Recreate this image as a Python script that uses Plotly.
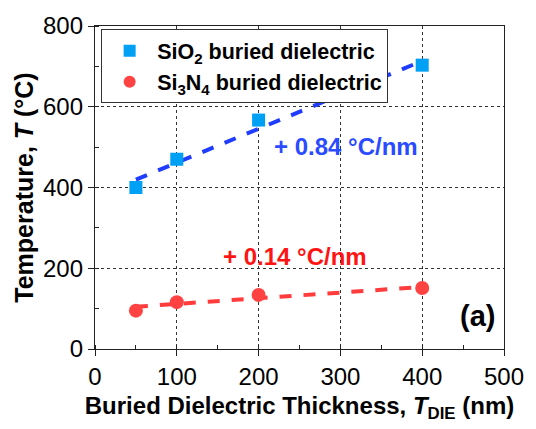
import numpy as np
import plotly.graph_objects as go

# Measured peak temperature versus buried dielectric thickness
thickness_nm = [50, 100, 200, 400]
temp_sio2 = [400, 470, 567, 703]
temp_si3n4 = [95, 116, 134, 151]

# Slopes of the linear trends (°C per nm)
slope_sio2 = 0.84
slope_si3n4 = 0.14

x_ticks = [0, 100, 200, 300, 400, 500]
y_ticks = [0, 200, 400, 600, 800]

FONT = "Liberation Sans, Arial, sans-serif"


def trend(xs, ys, slope):
    xs = np.asarray(xs, dtype=float)
    ys = np.asarray(ys, dtype=float)
    b = ys.mean() - slope * xs.mean()
    xf = np.array([xs.min(), xs.max()])
    return xf, slope * xf + b


fig = go.Figure()

xf, yf = trend(thickness_nm, temp_sio2, slope_sio2)
fig.add_trace(go.Scatter(x=xf, y=yf, mode="lines", showlegend=False,
                         line=dict(color="#1f3cff", width=4, dash="dash")))
xf, yf = trend(thickness_nm, temp_si3n4, slope_si3n4)
fig.add_trace(go.Scatter(x=xf, y=yf, mode="lines", showlegend=False,
                         line=dict(color="#ff3b3b", width=4, dash="dash")))

fig.add_trace(go.Scatter(x=thickness_nm, y=temp_sio2, mode="markers",
                         name="<b>SiO<sub>2</sub> buried dielectric</b>",
                         marker=dict(symbol="square", size=13, color="#00a0f5")))
fig.add_trace(go.Scatter(x=thickness_nm, y=temp_si3n4, mode="markers",
                         name="<b>Si<sub>3</sub>N<sub>4</sub> buried dielectric</b>",
                         marker=dict(symbol="circle", size=14, color="#ff4343")))

fig.add_annotation(x=307, y=502, text="<b>+ 0.84 °C/nm</b>", showarrow=False,
                   font=dict(family=FONT, size=24, color="#2a4bff"))
fig.add_annotation(x=244, y=229, text="<b>+ 0.14 °C/nm</b>", showarrow=False,
                   font=dict(family=FONT, size=24, color="#ff1414"))
fig.add_annotation(x=468, y=82, text="<b>(a)</b>", showarrow=False,
                   font=dict(family=FONT, size=29, color="black"))

axis_common = dict(
    showline=True, linecolor="#222", linewidth=1.3, mirror=True,
    showgrid=True, gridcolor="#333", gridwidth=1, griddash="dot",
    ticks="outside", ticklen=6, tickcolor="#222",
    tickfont=dict(family=FONT, size=24, color="black"),
    zeroline=False,
)

fig.update_xaxes(
    range=[0, 500], tickvals=x_ticks,
    minor=dict(dtick=50, ticks="inside", ticklen=4, tickcolor="#222", showgrid=False),
    title=dict(text="<b>Buried Dielectric Thickness, <i>T</i><sub>DIE</sub> (nm)</b>",
               font=dict(family=FONT, size=24, color="black"), standoff=8),
    **axis_common,
)
fig.update_yaxes(
    range=[0, 800], tickvals=y_ticks,
    minor=dict(dtick=100, ticks="inside", ticklen=4, tickcolor="#222", showgrid=False),
    title=dict(text="<b>Temperature, <i>T</i> (°C)</b>",
               font=dict(family=FONT, size=25, color="black"), standoff=2),
    **axis_common,
)

fig.update_layout(
    width=536, height=429,
    margin=dict(l=95, r=27, t=16, b=80),
    paper_bgcolor="white", plot_bgcolor="white",
    showlegend=True,
    legend=dict(x=0.015, y=0.99, xanchor="left", yanchor="top",
                bgcolor="white", bordercolor="#333", borderwidth=1,
                font=dict(family=FONT, size=21.5, color="black"),
                itemsizing="constant", itemwidth=45, tracegroupgap=0),
)

fig.write_html("out.html")
